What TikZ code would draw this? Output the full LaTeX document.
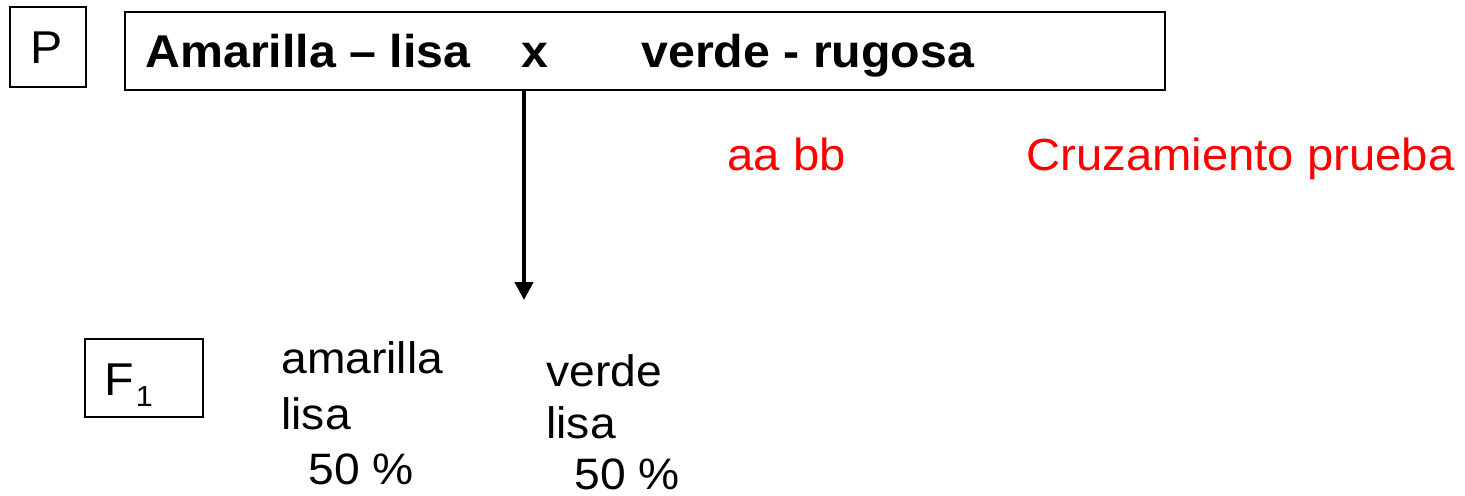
\documentclass[tikz,border=0pt]{standalone}
\usepackage{fontspec}
\setmainfont[FakeStretch=1.05]{Liberation Sans}
\usetikzlibrary{arrows.meta, positioning}
\definecolor{testred}{RGB}{255,0,0}

\begin{document}
\begin{tikzpicture}[
  x=0.5pt, y=-0.5pt,
  gen/.style={draw, line width=1pt, inner sep=0pt},
  txt/.style={inner sep=0pt, anchor=base west, font=\fontsize{22}{26}\selectfont},
  btxt/.style={txt, font=\fontsize{23}{27}\selectfont\bfseries},
  rtxt/.style={txt, text=testred, font=\fontsize{22.5}{27}\selectfont},
  arr/.style={-{Triangle[length=9pt, width=9pt]}, line width=2pt}
]
  \useasboundingbox (0,0) rectangle (1465,495);

  % generaciones
  \node[gen, minimum width=38pt, minimum height=40pt] (P) at (48,47) {};
  \node[txt, font=\fontsize{23}{27}\selectfont] (Ptxt) at (30,63) {P};
  \node[gen, minimum width=520pt, minimum height=39pt] (cruce) at (645,51) {};
  \node[gen, minimum width=59pt, minimum height=39pt] (F) at (144,378) {};
  \node[txt, font=\fontsize{23}{27}\selectfont] (Ftxt) at (104,395)
    {F\kern1pt\raisebox{-5.5pt}{\fontsize{14.5}{15}\selectfont 1}};

  % padres
  \node[btxt] (padre1) at (145,67) {Amarilla -- lisa};
  \node[btxt] (por) at (521,67) {x};
  \node[btxt] (padre2) at (641,67) {verde - rugosa};

  \node[rtxt] (genot) at (727,170) {aa bb};
  \node[rtxt] (prueba) at (1026,170) {Cruzamiento prueba};

  % descendencia
  \coordinate (tip) at (524,300);
  \draw[arr] (cruce.south -| tip) -- (tip);

  \node[txt] (h1a) at (281,373) {amarilla};
  \node[txt] (h1b) at (281,429) {lisa};
  \node[txt] (h1c) at (308,484) {50 \%};
  \node[txt] (h2a) at (546,386) {verde};
  \node[txt] (h2b) at (546,438) {lisa};
  \node[txt] (h2c) at (574,489) {50 \%};
\end{tikzpicture}
\end{document}
